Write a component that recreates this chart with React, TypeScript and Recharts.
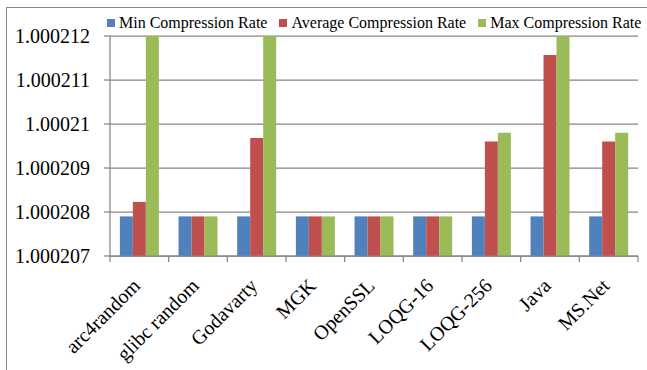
import React from "react";
import { BarChart, Bar, XAxis, YAxis, CartesianGrid, Legend } from "recharts";

const categories = ["arc4random", "glibc random", "Godavarty", "MGK", "OpenSSL", "LOQG-16", "LOQG-256", "Java", "MS.Net"];
const minRate = [1.0002079, 1.0002079, 1.0002079, 1.0002079, 1.0002079, 1.0002079, 1.0002079, 1.0002079, 1.0002079];
const avgRate = [1.00020823, 1.0002079, 1.00020968, 1.0002079, 1.0002079, 1.0002079, 1.0002096, 1.00021157, 1.0002096];
const maxRate = [1.0002125, 1.0002079, 1.0002125, 1.0002079, 1.0002079, 1.0002079, 1.0002098, 1.0002125, 1.0002098];
const yTicks = [1.000207, 1.000208, 1.000209, 1.00021, 1.000211, 1.000212];

const seriesNames = ["Min Compression Rate", "Average Compression Rate", "Max Compression Rate"];
const seriesKeys = ["min", "avg", "max"];
const seriesColors = ["#4F81BD", "#C0504D", "#9BBB59"];

const data = categories.map((name, i) => ({
  name,
  min: minRate[i],
  avg: avgRate[i],
  max: maxRate[i],
}));

const FONT = "'Liberation Serif', 'Times New Roman', serif";
const AXIS = "#868686";

const fmt = (v: number) => String(parseFloat(v.toFixed(6)));

const XTick = (props: any) => {
  const { x, y, payload, index } = props;
  const off = payload && payload.offset != null ? payload.offset : 0;
  const last = index === categories.length - 1;
  return (
    <g>
      <line x1={x - off} x2={x - off} y1={y} y2={y + 6} stroke={AXIS} strokeWidth={1.25} />
      {last && <line x1={x + off} x2={x + off} y1={y} y2={y + 6} stroke={AXIS} strokeWidth={1.25} />}
      <text
        transform={`translate(${x + 2}, ${y + 31}) rotate(-45)`}
        textAnchor="end"
        fontSize={20}
        fontFamily={FONT}
        fill="#000"
      >
        {payload.value}
      </text>
    </g>
  );
};

const LegendContent = () => (
  <div style={{ display: "flex", fontFamily: FONT, fontSize: 16, color: "#000", lineHeight: "18px", whiteSpace: "nowrap" }}>
    {seriesNames.map((n, i) => (
      <div key={n} style={{ display: "flex", alignItems: "center", marginRight: 12 }}>
        <span style={{ display: "inline-block", width: 8, height: 8, background: seriesColors[i], marginRight: 4 }} />
        <span>{n}</span>
      </div>
    ))}
  </div>
);

export default function App() {
  return (
    <div style={{ position: "absolute", left: 0, top: 0, width: 647, height: 370, overflow: "hidden", background: "#fff" }}>
      <div style={{ position: "absolute", left: 6, top: 7, width: 700, height: 400, border: "1.5px solid #8a8a8a", boxSizing: "border-box" }} />
      <div style={{ position: "absolute", left: 0, top: 0 }}>
        <BarChart
          width={647}
          height={370}
          data={data}
          margin={{ top: 36, right: 9, bottom: 0, left: 0 }}
          barCategoryGap="16.8%"
          barGap={0}
        >
          <CartesianGrid vertical={false} stroke={AXIS} strokeWidth={1.25} />
          <XAxis
            dataKey="name"
            height={114}
            interval={0}
            tickLine={false}
            tickSize={0}
            tickMargin={0}
            axisLine={{ stroke: AXIS, strokeWidth: 1.25 }}
            tick={<XTick />}
          />
          <YAxis
            width={110}
            domain={[yTicks[0], yTicks[yTicks.length - 1]]}
            ticks={yTicks}
            allowDataOverflow
            interval={0}
            tickFormatter={fmt}
            tickSize={6}
            tickMargin={14}
            tickLine={{ stroke: AXIS, strokeWidth: 1.25 }}
            axisLine={{ stroke: AXIS, strokeWidth: 1.25 }}
            tick={{ fontSize: 20, fontFamily: FONT, fill: "#000" }}
          />
          <Legend
            layout="horizontal"
            verticalAlign="middle"
            align="center"
            wrapperStyle={{ left: 107, top: 14, width: 540 }}
            content={<LegendContent />}
          />
          {seriesKeys.map((k, i) => (
            <Bar key={k} dataKey={k} name={seriesNames[i]} fill={seriesColors[i]} isAnimationActive={false} />
          ))}
        </BarChart>
      </div>
    </div>
  );
}
